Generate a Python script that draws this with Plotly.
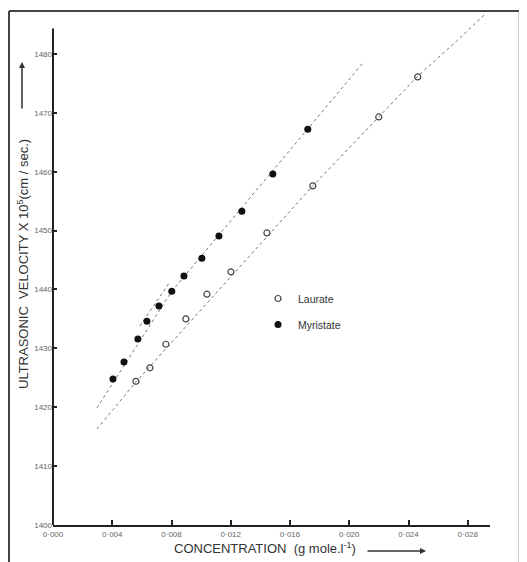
import plotly.graph_objects as go

# ---- data ----
laurate_conc = [0.0056, 0.00654, 0.00762, 0.00897, 0.01039, 0.01201, 0.01444, 0.01754, 0.02199, 0.02462]
laurate_vel = [1424.4, 1426.7, 1430.7, 1435.0, 1439.2, 1443.0, 1449.6, 1457.6, 1469.3, 1476.1]

myristate_conc = [0.00405, 0.00479, 0.00573, 0.00634, 0.00715, 0.00802, 0.00884, 0.01005, 0.0112, 0.01275, 0.01484, 0.0172]
myristate_vel = [1424.8, 1427.7, 1431.6, 1434.6, 1437.2, 1439.7, 1442.3, 1445.3, 1449.1, 1453.3, 1459.6, 1467.2]

# drawn (hand-fitted) lines
laurate_line_conc = [0.00297, 0.0056, 0.01754, 0.02462, 0.02725, 0.0291]
laurate_line_vel = [1416.3, 1424.3, 1457.6, 1476.2, 1482.2, 1486.6]
myristate_line_conc = [0.00297, 0.00802, 0.0209]
myristate_line_vel = [1419.9, 1439.7, 1478.4]
myristate_branch_conc = [0.00587, 0.00789]
myristate_branch_vel = [1433.8, 1441.3]

x_tickvals = [0.0, 0.004, 0.008, 0.012, 0.016, 0.020, 0.024, 0.028]
x_ticktext = ["0·000", "0·004", "0·008", "0·012", "0·016", "0·020", "0·024", "0·028"]
y_tickvals = [1400, 1410, 1420, 1430, 1440, 1450, 1460, 1470, 1480]
y_ticktext = [str(v) for v in y_tickvals]

FONT = "Liberation Sans"
LINE_C = "#777777"

fig = go.Figure()
for xs, ys in [(laurate_line_conc, laurate_line_vel),
               (myristate_line_conc, myristate_line_vel),
               (myristate_branch_conc, myristate_branch_vel)]:
    fig.add_trace(go.Scatter(x=xs, y=ys, mode="lines", showlegend=False,
                             line=dict(color=LINE_C, width=1, dash="dot"),
                             hoverinfo="skip"))

fig.add_trace(go.Scatter(x=laurate_conc, y=laurate_vel, mode="markers", name="Laurate",
                         legendgroup="a",
                         marker=dict(symbol="circle-open", size=6, color="#444444",
                                     line=dict(width=1.2, color="#444444"))))
fig.add_trace(go.Scatter(x=myristate_conc, y=myristate_vel, mode="markers", name="Myristate",
                         legendgroup="b",
                         marker=dict(symbol="circle", size=7, color="#111111")))

# the page body adds an 8px offset; figure sized so the plot lands where the reference has it
OFF = 8
W, H = 519, 554
L, R, T, B = 45, 37, 0, 37
PL, PR, PT, PB = L + OFF, W + OFF - R, T + OFF, H + OFF - B   # plot box in screen pixels

fig.update_layout(
    width=W, height=H,
    margin=dict(l=L, r=R, t=T, b=B),
    paper_bgcolor="white", plot_bgcolor="white",
    font=dict(family=FONT, color="#333333", size=10),
    showlegend=True,
    xaxis=dict(range=[0, 0.0295], tickvals=x_tickvals, ticktext=x_ticktext,
               showgrid=False, zeroline=False, showline=True, linecolor="#222222",
               linewidth=2, ticks="inside", ticklen=5, tickwidth=1.5, tickcolor="#222222",
               tickfont=dict(size=8, color="#666666")),
    yaxis=dict(range=[1400, 1487.8], tickvals=y_tickvals, ticktext=y_ticktext,
               showgrid=False, zeroline=False, showline=False,
               ticks="inside", ticklen=4, tickwidth=1.5, tickcolor="#222222",
               tickfont=dict(size=8, color="#666666")),
)

px2x = lambda sx: (sx - PL) / (PR - PL)
py2y = lambda sy: (PB - sy) / (PB - PT)

fig.update_layout(legend=dict(x=px2x(258), y=py2y(284), xanchor="left", yanchor="top",
                              bgcolor="rgba(0,0,0,0)", font=dict(size=10.5, color="#333333"),
                              tracegroupgap=7, traceorder="grouped"))

# y-axis line (stops below top of plot, as in the reference)
fig.add_shape(type="line", xref="paper", yref="y", x0=0, x1=0, y0=1400, y1=1484.3,
              line=dict(color="#222222", width=2))

# page frame from the scan
frame = dict(color="#444444", width=2)
fig.add_shape(type="line", xref="paper", yref="paper", x0=px2x(9), x1=px2x(9),
              y0=py2y(562), y1=py2y(11), line=frame)
fig.add_shape(type="line", xref="paper", yref="paper", x0=px2x(9), x1=px2x(519),
              y0=py2y(11), y1=py2y(11), line=frame)
fig.add_shape(type="line", xref="paper", yref="paper", x0=px2x(519), x1=px2x(519),
              y0=py2y(11), y1=py2y(562), line=dict(color="#999999", width=1))

# axis titles
fig.add_annotation(xref="paper", yref="paper", x=px2x(23), y=py2y(264),
                   xanchor="center", yanchor="middle",
                   text="ULTRASONIC  VELOCITY X 10<sup>5</sup>(cm / sec.)",
                   textangle=-90, showarrow=False, font=dict(size=13, color="#333333"))
fig.add_annotation(xref="paper", yref="paper", x=px2x(22), y=py2y(62), text="",
                   showarrow=True, ax=0, ay=48, arrowhead=2, arrowsize=0.8,
                   arrowwidth=1.5, arrowcolor="#333333")
fig.add_annotation(xref="paper", yref="paper", x=px2x(265), y=py2y(548),
                   xanchor="center", yanchor="middle",
                   text="CONCENTRATION  (g mole.l<sup>-1</sup>)",
                   showarrow=False, font=dict(size=13, color="#333333"))
fig.add_annotation(xref="paper", yref="paper", x=px2x(426), y=py2y(551), text="",
                   showarrow=True, ax=-60, ay=0, arrowhead=2, arrowsize=0.8,
                   arrowwidth=1.5, arrowcolor="#333333")

fig.write_html("out.html")
